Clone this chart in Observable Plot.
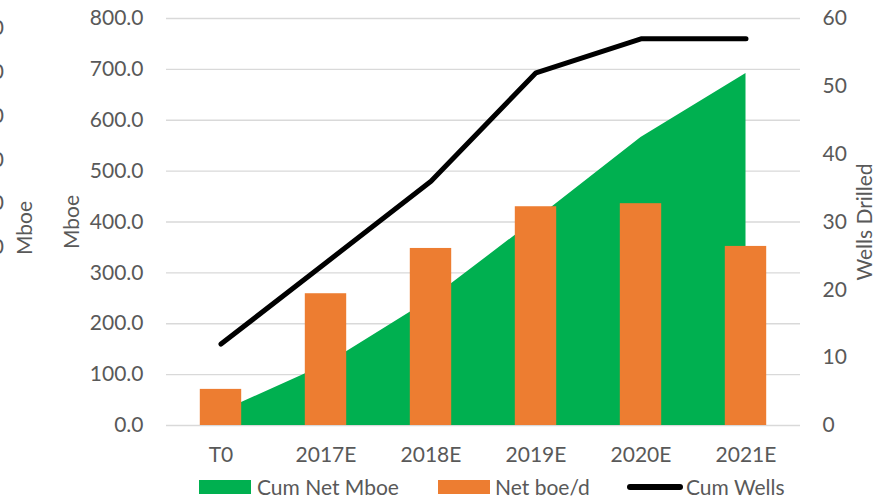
<!DOCTYPE html>
<html>
<head>
<meta charset="utf-8">
<script src="https://cdn.jsdelivr.net/npm/d3@7"></script>
<script src="https://cdn.jsdelivr.net/npm/@observablehq/plot@0.6"></script>
<style>
  html, body { margin: 0; padding: 0; background: #fff; }
  body { width: 885px; height: 499px; overflow: hidden; font-family: Lato, "Open Sans", sans-serif; }
  #chart svg { display: block; }
  #legend { position: relative; width: 885px; height: 29px; font-size: 21px; color: #595959; }
  #legend .sw { position: absolute; }
  #legend .lb { position: absolute; top: 3px; line-height: 21px; white-space: nowrap; }
</style>
</head>
<body>
<div id="chart"></div>
<div id="legend"></div>
<script>
// ---- data ----
const categories = ["T0", "2017E", "2018E", "2019E", "2020E", "2021E"];
const cumNetMboe = [27, 120, 248, 405, 566, 692];
const netBoeD = [71, 259, 348, 430, 436, 352];
const cumWells = [12, 24, 36, 52, 57, 57];
const leftTicks = [0, 100, 200, 300, 400, 500, 600, 700, 800];
const rightTicks = [0, 10, 20, 30, 40, 50, 60];
const seriesNames = ["Cum Net Mboe", "Net boe/d", "Cum Wells"];
const colors = ["#00B050", "#ED7D31", "#000000"];

const leftMax = 800, rightMax = 60;
const toLeft = v => v * leftMax / rightMax;

const rows = categories.map((c, i) => ({cat: c, cum: cumNetMboe[i], net: netBoeD[i], wells: toLeft(cumWells[i])}));

const textColor = "#595959";
const font = "Lato, 'Open Sans', sans-serif";
const fs = "21px";

const plot = Plot.plot({
  width: 885,
  height: 470,
  marginTop: 18,
  marginBottom: 45,
  marginLeft: 166,
  marginRight: 85,
  style: {fontFamily: font, fontSize: fs, color: textColor, background: "#fff", overflow: "visible"},
  x: {type: "band", domain: categories, padding: 0, label: null},
  y: {domain: [0, leftMax], label: null},
  marks: [
    Plot.gridY(leftTicks, {stroke: "#d9d9d9", strokeOpacity: 1, strokeWidth: 1.3}),
    Plot.areaY(rows, {x: "cat", y: "cum", fill: colors[0]}),
    Plot.barY(rows, {x: "cat", y: "net", fill: colors[1], insetLeft: 31.8, insetRight: 31.8}),
    Plot.lineY(rows, {x: "cat", y: "wells", stroke: colors[2], strokeWidth: 5, strokeLinecap: "round", strokeLinejoin: "round"}),
    Plot.axisY(leftTicks, {anchor: "left", tickSize: 0, tickPadding: 23, tickFormat: d => d.toFixed(1), label: null, fill: textColor}),
    Plot.axisY(rightTicks.map(toLeft), {anchor: "right", tickSize: 0, tickPadding: 22, tickFormat: d => String(Math.round(d * rightMax / leftMax)), label: null, fill: textColor}),
    Plot.axisX({tickSize: 0, tickPadding: 22, label: null, fill: textColor})
  ]
});
document.getElementById("chart").appendChild(plot);

// axis titles and clipped ghost labels at the left edge
const svg = d3.select(plot);
const addRot = (txt, x, y) => svg.append("text")
  .attr("transform", `translate(${x},${y}) rotate(-90)`)
  .attr("text-anchor", "middle").attr("dy", "0.35em")
  .attr("fill", textColor).style("font-family", font).style("font-size", fs)
  .text(txt);
addRot("Mboe", 72, 222);
addRot("Wells Drilled", 865, 222);
addRot("Mboe", 25, 228);
[28, 72, 116, 160, 203, 247].forEach(y => {
  svg.append("text").attr("x", 4).attr("y", y).attr("dy", "0.35em")
    .attr("text-anchor", "end").attr("fill", textColor)
    .style("font-family", font).style("font-size", fs).text("0");
});

// legend
const lg = d3.select("#legend");
const items = [
  {name: seriesNames[0], color: colors[0], kind: "box", x: 199, tx: 257},
  {name: seriesNames[1], color: colors[1], kind: "box", x: 438, tx: 495},
  {name: seriesNames[2], color: colors[2], kind: "line", x: 627, tx: 686}
];
items.forEach(it => {
  if (it.kind === "box") {
    lg.append("div").attr("class", "sw")
      .style("left", it.x + "px").style("top", "10px")
      .style("width", "52px").style("height", "14px").style("background", it.color);
  } else {
    lg.append("div").attr("class", "sw")
      .style("left", it.x + "px").style("top", "14px")
      .style("width", "56px").style("height", "6px").style("border-radius", "3px").style("background", it.color);
  }
  lg.append("div").attr("class", "lb").style("left", it.tx + "px").style("top", "6px").text(it.name);
});
</script>
</body>
</html>
